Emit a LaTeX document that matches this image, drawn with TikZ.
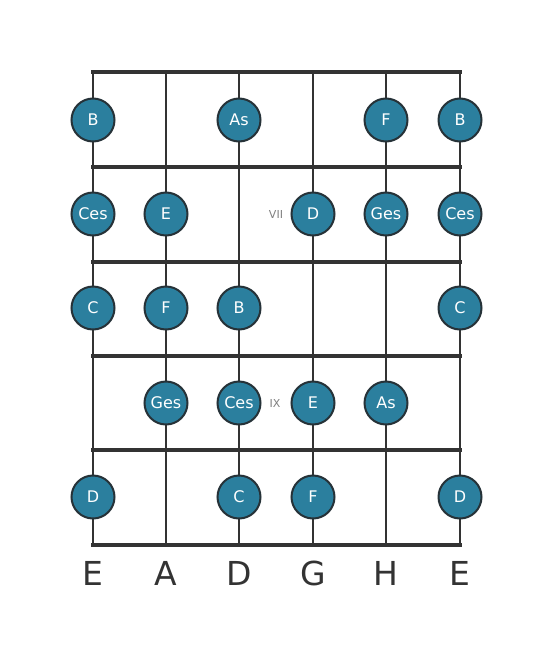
\documentclass[tikz,border=0pt]{standalone}
\usepackage{fontspec}
\setmainfont{DejaVu Sans}
\definecolor{notefill}{HTML}{2B7F9E}
\definecolor{noteedge}{HTML}{263238}
\definecolor{gridline}{HTML}{333333}
\begin{document}
\begin{tikzpicture}[x=1pt,y=-1pt,
	note/.style={circle, draw=noteedge, line width=2pt, fill=notefill, minimum size=43pt, inner sep=0pt, text=white, font=\fontsize{16}{16}\selectfont},
	fretlbl/.style={text=gray, font=\fontsize{11}{11}\selectfont},
	strname/.style={text=gridline, font=\fontsize{33}{33}\selectfont}]
	\useasboundingbox (0,0) rectangle (553,656);
	% strings
	\foreach \s/\x/\n in {1/93/E, 2/166/A, 3/239/D, 4/313/G, 5/386/H, 6/460/E} {
		\coordinate (top\s) at (\x,72);
		\coordinate (bot\s) at (\x,545);
		\draw[gridline, line width=2pt] (top\s) -- (bot\s);
		\node[strname] (name\s) at (\x,573) {\n};
	}
	% frets
	\foreach \f/\y in {0/72, 1/167, 2/262, 3/356, 4/450, 5/545} {
		\coordinate (fl\f) at (91,\y);
		\coordinate (fr\f) at (462,\y);
		\draw[gridline, line width=4pt] (fl\f) -- (fr\f);
	}
	% fret markers
	\node[fretlbl] (vii) at (276,214) {VII};
	\node[fretlbl] (ix) at (275,403) {IX};
	% notes
	\node[note] (n11) at (93,120) {B};
	\node[note] (n13) at (239,120) {As};
	\node[note] (n15) at (386,120) {F};
	\node[note] (n16) at (460,120) {B};

	\node[note] (n21) at (93,214) {Ces};
	\node[note] (n22) at (166,214) {E};
	\node[note] (n24) at (313,214) {D};
	\node[note] (n25) at (386,214) {Ges};
	\node[note] (n26) at (460,214) {Ces};

	\node[note] (n31) at (93,308) {C};
	\node[note] (n32) at (166,308) {F};
	\node[note] (n33) at (239,308) {B};
	\node[note] (n36) at (460,308) {C};

	\node[note] (n42) at (166,403) {Ges};
	\node[note] (n43) at (239,403) {Ces};
	\node[note] (n44) at (313,403) {E};
	\node[note] (n45) at (386,403) {As};

	\node[note] (n51) at (93,497) {D};
	\node[note] (n53) at (239,497) {C};
	\node[note] (n54) at (313,497) {F};
	\node[note] (n56) at (460,497) {D};
\end{tikzpicture}
\end{document}
